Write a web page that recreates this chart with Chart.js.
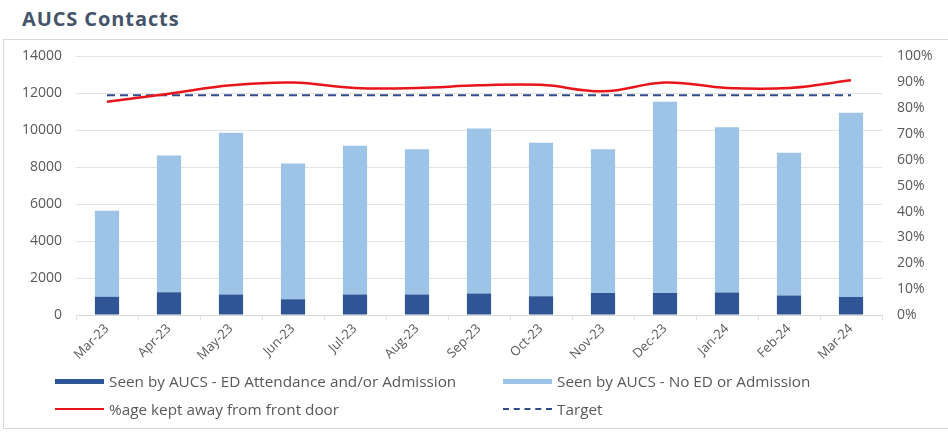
<!DOCTYPE html>
<html>
<head>
<meta charset="utf-8">
<script src="https://cdn.jsdelivr.net/npm/chart.js@4/dist/chart.umd.min.js"></script>
<style>
  html, body { margin: 0; padding: 0; background: #fff; }
  body { width: 948px; height: 434px; position: relative; overflow: hidden; font-family: "Open Sans", sans-serif; }
  #title { position: absolute; left: 22px; top: 9px; font: bold 20px/20px "Open Sans", sans-serif; letter-spacing: 0.9px; color: #44546a; }
  #frame { position: absolute; left: 3px; top: 39px; width: 960px; height: 390px; border: 1px solid #d9d9d9; border-right: none; box-sizing: border-box; }
  #wrap { position: absolute; left: 0; top: 33px; width: 948px; height: 332px; }
  #legend { position: absolute; left: 0; top: 0; width: 948px; height: 434px; pointer-events: none; }
  .item { position: absolute; display: flex; align-items: center; height: 20px; font: 15.3px "Open Sans", sans-serif; color: #595959; white-space: nowrap; }
  .sw { width: 49px; margin-right: 5px; }
</style>
</head>
<body>
<div id="title">AUCS Contacts</div>
<div id="frame"></div>
<div id="wrap"><canvas id="c" width="948" height="332"></canvas></div>
<div id="legend"></div>
<script>
// Monthly AUCS contacts, Mar-23 to Mar-24
const months = ['Mar-23','Apr-23','May-23','Jun-23','Jul-23','Aug-23','Sep-23','Oct-23','Nov-23','Dec-23','Jan-24','Feb-24','Mar-24'];
const edAttendance = [990, 1230, 1110, 850, 1110, 1110, 1170, 1020, 1190, 1190, 1220, 1060, 970];
const noEdOrAdmission = [4660, 7410, 8760, 7350, 8050, 7870, 8920, 8300, 7790, 10350, 8940, 7720, 9980];
const keptAwayPct = [82.5, 85.6, 88.8, 89.9, 87.8, 87.8, 88.8, 89.0, 86.5, 89.9, 87.8, 87.8, 90.8];
const targetPct = [85, 85, 85, 85, 85, 85, 85, 85, 85, 85, 85, 85, 85];
const leftTicks = [0, 2000, 4000, 6000, 8000, 10000, 12000, 14000];
const rightTicks = [0, 10, 20, 30, 40, 50, 60, 70, 80, 90, 100];

const tickFont = { family: 'Open Sans', size: 14 };
const xTickFont = { family: 'Open Sans', size: 13 };
const tickColor = '#595959';
const gridColor = '#e3e3e3';

const chart = new Chart(document.getElementById('c'), {
  type: 'bar',
  data: {
    labels: months,
    datasets: [
      { type: 'line', label: '%age kept away from front door', data: keptAwayPct, yAxisID: 'yPct',
        borderColor: '#e8161b', backgroundColor: '#e8161b', borderWidth: 2.5, pointRadius: 0, tension: 0.4, order: 0 },
      { type: 'line', label: 'Target', data: targetPct, yAxisID: 'yPct',
        borderColor: '#2f4b8a', backgroundColor: '#2f4b8a', borderWidth: 2, borderDash: [8, 5], pointRadius: 0, order: 1 },
      { label: 'Seen by AUCS - ED Attendance and/or Admission', data: edAttendance, yAxisID: 'y',
        backgroundColor: '#2f5597', stack: 's', order: 3, barPercentage: 0.39, categoryPercentage: 1 },
      { label: 'Seen by AUCS - No ED or Admission', data: noEdOrAdmission, yAxisID: 'y',
        backgroundColor: '#9dc3e6', stack: 's', order: 3, barPercentage: 0.39, categoryPercentage: 1 }
    ]
  },
  options: {
    responsive: false,
    animation: false,
    layout: { padding: { top: 0, left: 0, right: 0, bottom: 0 } },
    plugins: { legend: { display: false }, tooltip: { enabled: false } },
    scales: {
      x: {
        stacked: true,
        grid: { display: true, drawOnChartArea: false, drawTicks: true, tickLength: 5, color: gridColor, offset: true },
        border: { display: true, color: '#d9d9d9' },
        ticks: { font: xTickFont, color: tickColor, minRotation: 45, maxRotation: 45, autoSkip: false, padding: 1 },
        afterFit: s => { s.height = 50; }
      },
      y: {
        position: 'left', stacked: true, min: 0, max: 14000,
        afterBuildTicks: s => { s.ticks = leftTicks.map(v => ({ value: v })); },
        grid: { color: gridColor, drawTicks: false },
        border: { display: false },
        ticks: { font: tickFont, color: tickColor, padding: 14, callback: v => String(v) },
        afterFit: s => { s.width = 76; }
      },
      yPct: {
        position: 'right', min: 0, max: 100,
        afterBuildTicks: s => { s.ticks = rightTicks.map(v => ({ value: v })); },
        grid: { display: false, drawTicks: false },
        border: { display: false },
        ticks: { font: tickFont, color: tickColor, padding: 15, callback: v => v + '%' },
        afterFit: s => { s.width = 66; }
      }
    }
  }
});

// Two-column legend built from the chart's datasets
const legendSlots = [
  { ds: 2, x: 55, y: 381, kind: 'bar' },
  { ds: 3, x: 503, y: 381, kind: 'bar' },
  { ds: 0, x: 55, y: 409, kind: 'line' },
  { ds: 1, x: 503, y: 409, kind: 'dash' }
];
const legend = document.getElementById('legend');
legendSlots.forEach(slot => {
  const ds = chart.data.datasets[slot.ds];
  const item = document.createElement('div');
  item.className = 'item';
  item.style.left = slot.x + 'px';
  item.style.top = (slot.y - 10) + 'px';
  const sw = document.createElement('span');
  sw.className = 'sw';
  if (slot.kind === 'bar') {
    sw.style.height = '5px';
    sw.style.background = ds.backgroundColor;
  } else if (slot.kind === 'line') {
    sw.style.height = '0';
    sw.style.borderTop = '2.5px solid ' + ds.borderColor;
  } else {
    sw.style.height = '0';
    sw.style.borderTop = '2px dashed ' + ds.borderColor;
  }
  const tx = document.createElement('span');
  tx.textContent = ds.label;
  item.appendChild(sw);
  item.appendChild(tx);
  legend.appendChild(item);
});
</script>
</body>
</html>
